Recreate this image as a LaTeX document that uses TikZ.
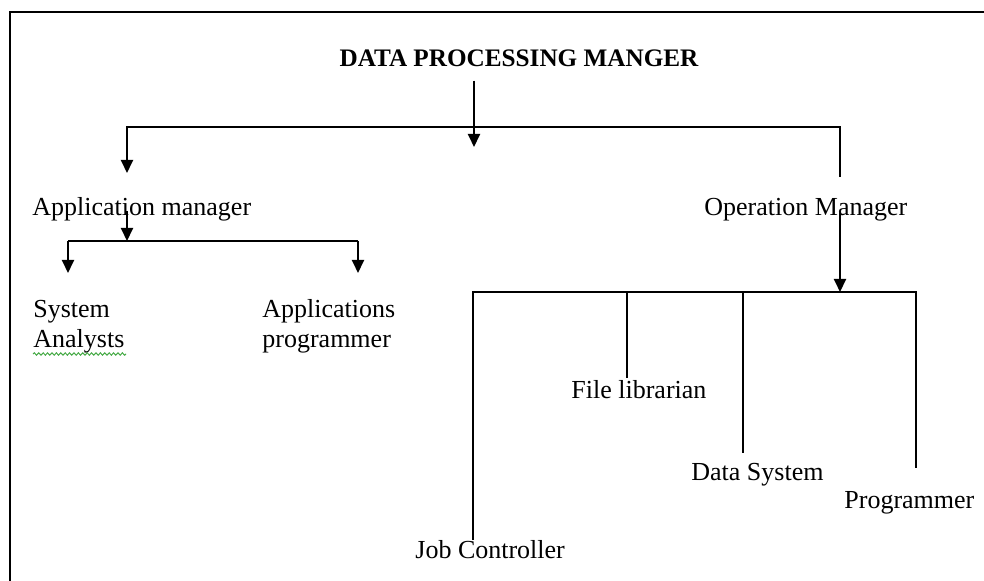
\documentclass[tikz,border=0pt]{standalone}
\usepackage{fontspec}
\setmainfont{Liberation Serif}
\usetikzlibrary{arrows.meta,calc,decorations.pathmorphing}

\tikzset{
    lbl/.style={inner sep=0pt,anchor=base west,align=left,
        font=\fontsize{13pt}{15pt}\selectfont},
    link/.style={line width=1pt},
    arr/.style={link,-{Triangle[length=6.5pt,width=6pt]}},
    spell/.style={draw={rgb,255:red,70;green,170;blue,70},line width=0.5pt,
        decorate,decoration={snake,amplitude=0.6pt,segment length=2.2pt}},
}

\begin{document}
\begin{tikzpicture}[x=0.5pt,y=-0.5pt]
    \useasboundingbox (0,0) rectangle (984,581);
    \draw[line width=1.3pt] (10,581) -- (10,12) -- (984,12);

    % labels (two-line ones sit on their last baseline)
    \node[lbl,anchor=base,font=\fontsize{12.6pt}{15pt}\selectfont\bfseries] (dpm) at (519,67) {DATA PROCESSING MANGER};
    \node[lbl] (appmgr) at (32,216) {Application manager};
    \node[lbl] (opmgr) at (704,216) {Operation Manager};
    \node[lbl] (sysan) at (33,348) {System\\Analysts};
    \node[lbl] (appprog) at (262,348) {Applications\\programmer};
    \node[lbl] (filelib) at (571,399) {File librarian};
    \node[lbl] (datasys) at (691,481) {Data System};
    \node[lbl] (prog) at (844,509) {Programmer};
    \node[lbl] (jobctl) at (415,559) {Job Controller};

    % top level
    \coordinate (dp-tip) at (474,147);
    \coordinate (bar-l) at (127,127);
    \coordinate (bar-r) at (840,127);
    \coordinate (am-tip) at (127,173);
    \coordinate (om-end) at (840,177);
    \draw[arr] ($(dpm.south -| dp-tip)+(0,13)$) -- (dp-tip);
    \draw[arr] (om-end) -- (bar-r) -- (bar-l) -- (am-tip);

    % application side
    \coordinate (ab-l) at (68,241);
    \coordinate (ab-r) at (358,241);
    \coordinate (sa-tip) at (68,273);
    \coordinate (ap-tip) at (358,273);
    \draw[arr] (appmgr.mid -| am-tip) -- (am-tip |- ab-l);
    \draw[link] (ab-l) -- (ab-r);
    \draw[arr] (ab-l) -- (sa-tip);
    \draw[arr] (ab-r) -- (ap-tip);
    \draw[spell] (sysan.south west) -- ++(93,0);

    % operation side
    \coordinate (ob) at (840,292);
    \coordinate (ob-l) at (473,292);
    \coordinate (ob-r) at (916,292);
    \coordinate (jc-end) at (473,540);
    \coordinate (fl-end) at (627,378);
    \coordinate (ds-end) at (743,453);
    \coordinate (pg-end) at (916,468);
    \draw[arr] (opmgr.mid -| ob) -- (ob);
    \draw[link] (jc-end) -- (ob-l) -- (ob-r) -- (pg-end);
    \draw[link] (ob-l -| fl-end) -- (fl-end);
    \draw[link] (ob-l -| ds-end) -- (ds-end);
\end{tikzpicture}
\end{document}
